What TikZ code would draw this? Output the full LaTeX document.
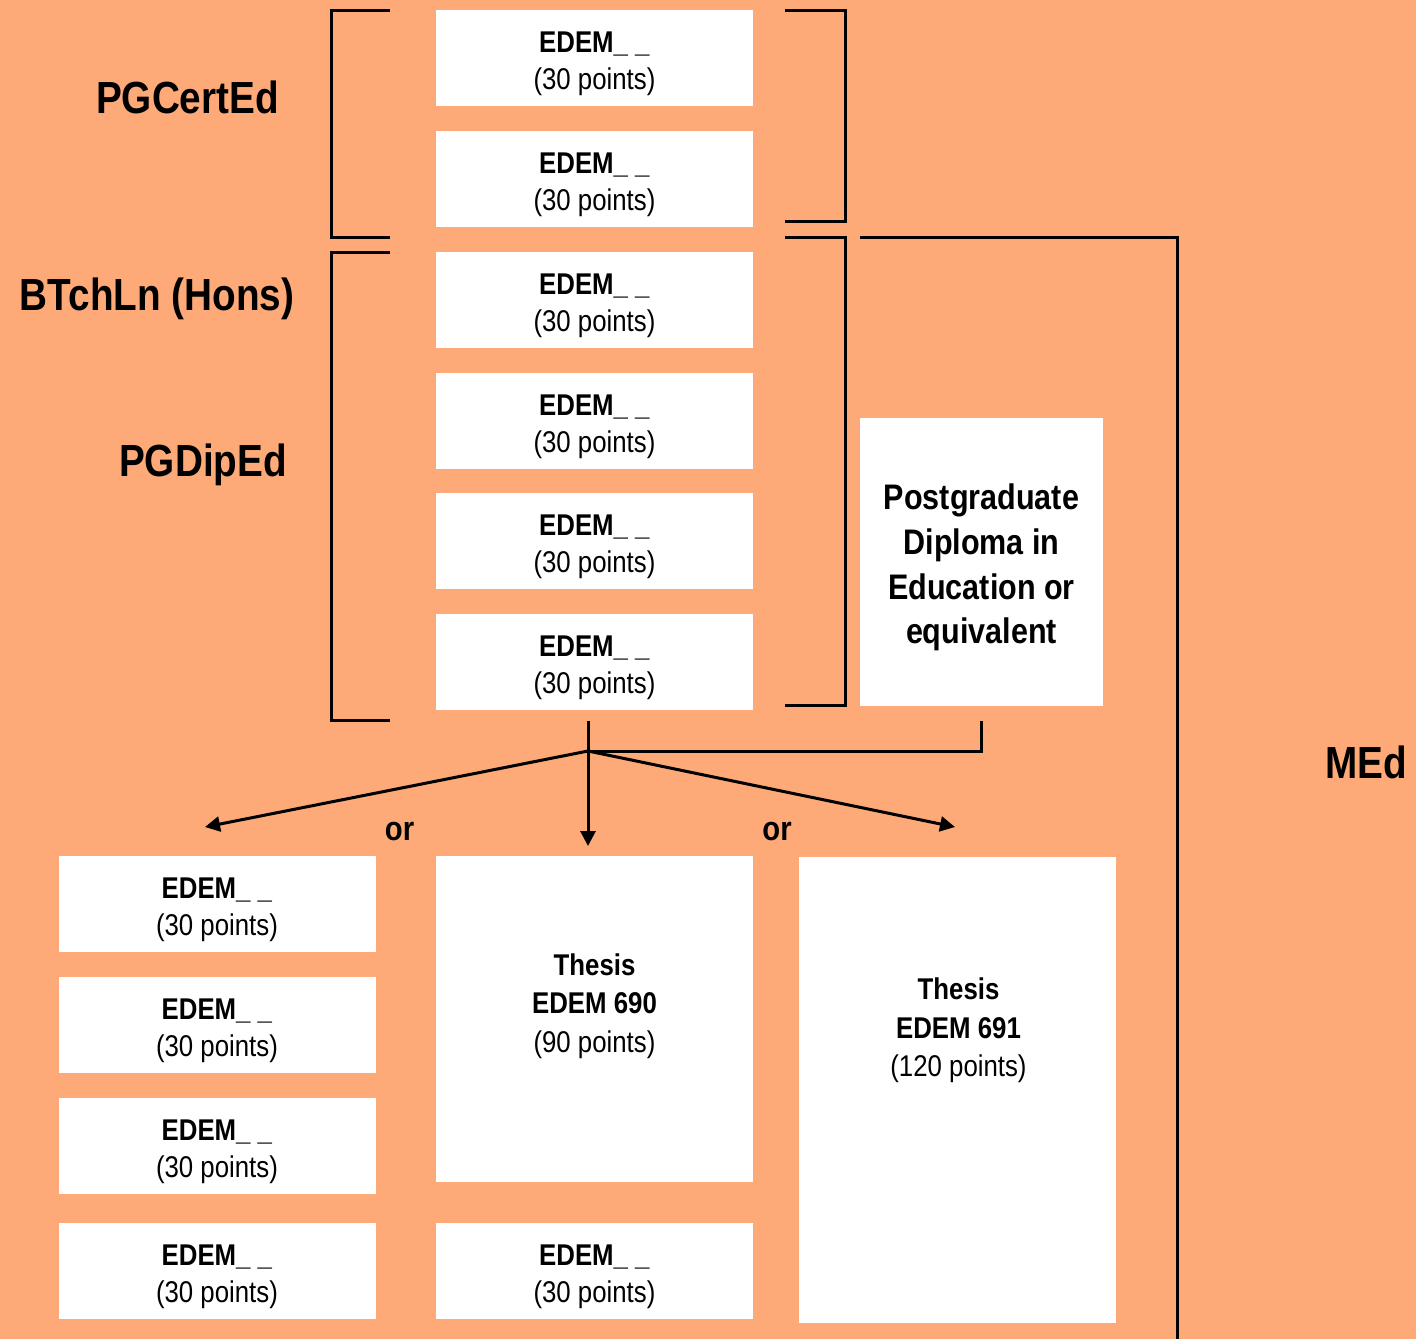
\documentclass[tikz,border=0pt]{standalone}
\usepackage{fontspec}
\setmainfont{Liberation Sans}[FakeStretch=0.86]
\usetikzlibrary{arrows.meta}
\definecolor{peach}{RGB}{253,170,120}
\tikzstyle{module} = [rectangle, fill=white, minimum width=317pt, minimum height=96pt, inner sep=0pt, align=center, font=\fontsize{30}{37}\selectfont]
\tikzstyle{thesis} = [rectangle, fill=white, minimum width=317pt, inner sep=0pt]
\tikzstyle{award} = [anchor=base, font=\bfseries\fontsize{45}{50}\selectfont]
\tikzstyle{bracket} = [line width=3pt]
\tikzstyle{arrow} = [line width=3pt,-{Triangle[length=15pt,width=15pt]}]
\newcommand{\edem}{\rule{0pt}{33pt}\textbf{EDEM\_ \_}\\(30 points)}

\begin{document}
\begin{tikzpicture}[x=1pt,y=-1pt]
\fill[peach] (0,0) rectangle (1416,1339);
\useasboundingbox (0,0) rectangle (1416,1339);

%PGCertEd
\node(cert1) at (594.5,57.5)[module]{\edem};
\node(cert2) at (594.5,179)[module]{\edem};
\draw[bracket] (390,10) -- (331,10) -- (331,237) -- (390,237);
\draw[bracket] (785,10) -- (845,10) -- (845,221) -- (785,221);
\node(pgcert) at (187.5,113)[award]{PGCertEd};

%PGDipEd
\node(dip1) at (594.5,300)[module]{\edem};
\node(dip2) at (594.5,421)[module]{\edem};
\node(dip3) at (594.5,541)[module]{\edem};
\node(dip4) at (594.5,662)[module]{\edem};
\draw[bracket] (390,252) -- (331,252) -- (331,720) -- (390,720);
\draw[bracket] (785,237) -- (845,237) -- (845,705) -- (785,705);
\node(btch) at (157,310)[award]{BTchLn (Hons)};
\node(pgdipl) at (203,476)[award]{PGDipEd};
\node(pgdip) at (981.5,562)[rectangle, fill=white, minimum width=243pt, minimum height=288pt, align=center, font=\bfseries\fontsize{35.5}{44.7}\selectfont]{\rule{0pt}{37pt}Postgraduate\\Diploma in\\Education or\\equivalent};

%MEd
\draw[bracket] (860,237) -- (1177,237) -- (1177,1339);
\node(med) at (1366.5,778)[award]{MEd};

%options
\node(opt1) at (217,904)[module]{\edem};
\node(opt2) at (217,1025)[module]{\edem};
\node(opt3) at (217,1146)[module]{\edem};
\node(opt4) at (217,1271)[module]{\edem};
\node(th690) at (594.5,1019)[thesis, minimum height=326pt]{};
\node(th690txt) at (594.5,1006)[align=center, font=\fontsize{30}{38.5}\selectfont]{\textbf{Thesis}\\\textbf{EDEM 690}\\(90 points)};
\node(opt5) at (594.5,1271)[module]{\edem};
\node(th691) at (957.5,1090)[thesis, minimum height=466pt]{};
\node(th691txt) at (958.5,1030.5)[align=center, font=\fontsize{30}{38.5}\selectfont]{\textbf{Thesis}\\\textbf{EDEM 691}\\(120 points)};
\node(or1) at (399.5,840)[anchor=base, font=\bfseries\fontsize{34}{40}\selectfont]{or};
\node(or2) at (777,840)[anchor=base, font=\bfseries\fontsize{34}{40}\selectfont]{or};

%arrows
\coordinate(split) at (588,751);
\coordinate(top) at (588,721);
\coordinate(tipL) at (205,827);
\coordinate(tipM) at (588,846);
\coordinate(tipR) at (955,827);
\draw[bracket] ([yshift=-15pt]pgdip.south) |- (split);
\draw[bracket] (top) -- (split);
\draw[arrow] (split) -- (tipL);
\draw[arrow] (split) -- (tipM);
\draw[arrow] (split) -- (tipR);
\end{tikzpicture}
\end{document}
